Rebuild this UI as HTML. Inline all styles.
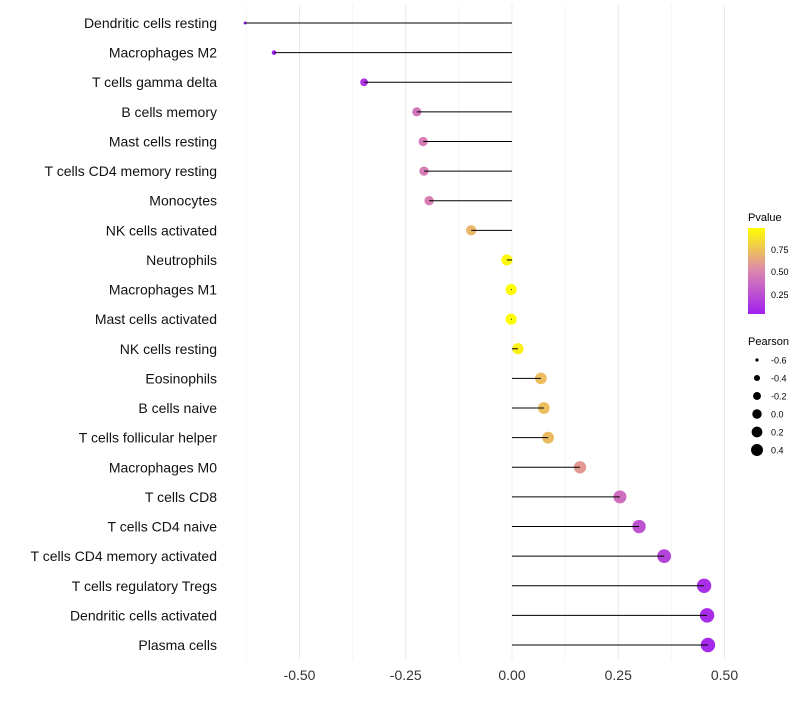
<!DOCTYPE html>
<html><head><meta charset="utf-8"><style>body{margin:0;background:#fff}svg text{font-family:"Liberation Sans",sans-serif}</style></head>
<body>
<svg id="c" width="800" height="700" xmlns="http://www.w3.org/2000/svg">
<defs><linearGradient id="pg" x1="0" y1="1" x2="0" y2="0">
<stop offset="0" stop-color="#a020f0"/><stop offset="0.5" stop-color="#dc86b0"/><stop offset="1" stop-color="#ffff00"/></linearGradient></defs>
<g id="grid"></g><g id="pts"></g><g id="marks"></g><g id="labels"></g>
<g>
<text x="748" y="221" font-size="11">Pvalue</text>
<rect x="748" y="228" width="17" height="86" fill="url(#pg)"/>
<text x="771" y="253" font-size="9">0.75</text><text x="771" y="275" font-size="9">0.50</text><text x="771" y="298" font-size="9">0.25</text>
</g>
<g id="sizeleg">
<text x="748" y="345" font-size="11">Pearson</text>
</g>
</svg>
<script>
const categories=["Dendritic cells resting","Macrophages M2","T cells gamma delta","B cells memory","Mast cells resting","T cells CD4 memory resting","Monocytes","NK cells activated","Neutrophils","Macrophages M1","Mast cells activated","NK cells resting","Eosinophils","B cells naive","T cells follicular helper","Macrophages M0","T cells CD8","T cells CD4 naive","T cells CD4 memory activated","T cells regulatory  Tregs ","Dendritic cells activated","Plasma cells"];
const pearson=[-0.628,-0.56,-0.348,-0.224,-0.209,-0.207,-0.195,-0.096,-0.012,-0.002,-0.002,0.014,0.068,0.075,0.085,0.16,0.254,0.299,0.358,0.452,0.459,0.461];
const pvalue=[0.01,0.01,0.1,0.42,0.45,0.45,0.46,0.7,0.97,0.99,0.99,0.94,0.73,0.73,0.72,0.58,0.38,0.25,0.17,0.07,0.06,0.05];
const xTicks=[-0.5,-0.25,0,0.25,0.5];
const xTickLabels=["-0.50","-0.25","0.00","0.25","0.50"];
const sizeLegend=[-0.6,-0.4,-0.2,0.0,0.2,0.4];
const sizeLegendLabels=["-0.6","-0.4","-0.2","0.0","0.2","0.4"];
const NS="http://www.w3.org/2000/svg";
const X=v=>512+v*425;
const Y=i=>23+i*(622/21);
const R=v=>Math.sqrt(2.25+Math.max(0,(v+0.63)/1.09)*(52-2.25));
function col(p){const a=[160,32,240],m=[220,134,176],b=[255,255,0];let c0,c1,t;if(p<0.5){c0=a;c1=m;t=p/0.5}else{c0=m;c1=b;t=(p-0.5)/0.5}return`rgb(${c0.map((x,k)=>Math.round(x+(c1[k]-x)*t)).join(',')})`}
function mk(t,at,p){const e=document.createElementNS(NS,t);for(const k in at)e.setAttribute(k,at[k]);p.appendChild(e);return e}
const grid=document.getElementById('grid'),marks=document.getElementById('marks'),pts=document.getElementById('pts'),labels=document.getElementById('labels');
for(let v=-0.625;v<=0.501;v+=0.125){const l=mk('line',{x1:X(v),x2:X(v),y1:5,y2:660,stroke:Math.abs((v/0.25)-Math.round(v/0.25))<1e-6?'#ebebeb':'#f4f4f4','stroke-width':1},grid);

}
xTicks.forEach((v,i)=>{const t=mk('text',{x:X(v),y:680,'font-size':14,'text-anchor':'middle',fill:'#333'},labels);t.textContent=xTickLabels[i];

});
categories.forEach((c,i)=>{const y=Y(i);
const t=mk('text',{x:217,y:y+5,'font-size':14,'text-anchor':'end',fill:'#111'},labels);t.textContent=c;


const p=mk('circle',{cx:X(pearson[i]),cy:y,r:R(pearson[i]),fill:col(pvalue[i])},pts);


const s=mk('line',{x1:X(0),x2:X(pearson[i]),y1:y,y2:y,stroke:'#000','stroke-width':1},marks);

});
const sl=document.getElementById('sizeleg');
sizeLegend.forEach((v,i)=>{const y=360+i*18;
const c=mk('circle',{cx:757,cy:y,r:R(v)*0.85,fill:'#000'},sl);


const t=mk('text',{x:771,y:y+3.5,'font-size':9},sl);t.textContent=sizeLegendLabels[i];

});
</script>
</body></html>
